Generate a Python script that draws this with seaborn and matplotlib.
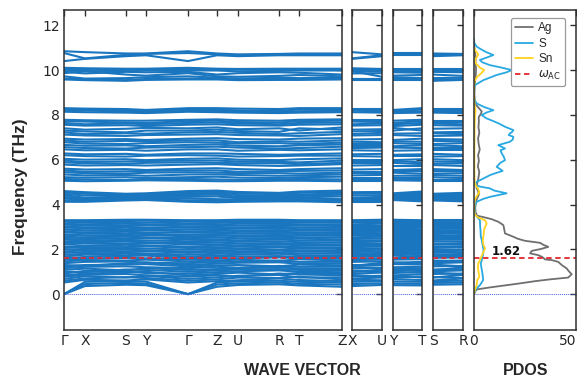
import matplotlib
matplotlib.use("Agg")
import matplotlib.pyplot as plt
import pandas as pd
import seaborn as sns

# ---------------------------------------------------------------- data
points = ["Γ", "X", "S", "Y", "Z", "U", "R", "T"]
main_path = ["Γ", "X", "S", "Y", "Γ", "Z", "U", "R", "T", "Z"]
segment_lengths = [21, 41, 20, 42, 29, 21, 41, 20, 43]
side_paths = [["X", "U"], ["Y", "T"], ["S", "R"]]

# phonon frequencies (THz) at Γ, X, S, Y, Z, U, R, T
bands_low = [
    [0.00, 0.36, 0.42, 0.40, 0.33, 0.41, 0.44, 0.39],
    [0.00, 0.45, 0.50, 0.47, 0.43, 0.48, 0.52, 0.46],
    [0.00, 0.55, 0.58, 0.56, 0.52, 0.57, 0.60, 0.55],
    [0.52, 0.64, 0.61, 0.66, 0.58, 0.62, 0.70, 0.63],
    [0.60, 0.70, 0.76, 0.72, 0.66, 0.74, 0.72, 0.78],
    [0.68, 0.80, 0.74, 0.82, 0.75, 0.82, 0.86, 0.74],
    [0.78, 0.86, 0.90, 0.84, 0.84, 0.78, 0.92, 0.88],
    [0.84, 0.92, 0.97, 1.00, 0.90, 0.96, 0.88, 0.95],
    [0.92, 1.04, 1.02, 0.94, 0.98, 1.02, 1.06, 1.00],
    [1.00, 0.98, 1.10, 1.08, 1.06, 1.10, 1.12, 1.08],
    [1.08, 1.14, 1.06, 1.16, 1.12, 1.16, 1.20, 1.14],
    [1.16, 1.22, 1.24, 1.20, 1.22, 1.18, 1.26, 1.22],
    [1.24, 1.30, 1.32, 1.34, 1.28, 1.30, 1.24, 1.32],
    [1.30, 1.26, 1.38, 1.42, 1.36, 1.40, 1.42, 1.36],
    [1.38, 1.44, 1.46, 1.40, 1.44, 1.46, 1.50, 1.44],
    [1.46, 1.52, 1.50, 1.54, 1.50, 1.54, 1.48, 1.56],
    [1.54, 1.58, 1.62, 1.60, 1.58, 1.60, 1.64, 1.60],
    [1.60, 1.66, 1.70, 1.72, 1.66, 1.68, 1.70, 1.66],
    [1.68, 1.76, 1.74, 1.78, 1.72, 1.76, 1.80, 1.74],
    [1.76, 1.80, 1.84, 1.82, 1.80, 1.84, 1.86, 1.82],
    [1.84, 1.88, 1.90, 1.92, 1.88, 1.90, 1.94, 1.90],
    [1.90, 1.96, 1.98, 1.96, 1.94, 1.98, 1.98, 1.96],
    [1.98, 2.02, 2.06, 2.04, 2.02, 2.04, 2.08, 2.04],
    [2.06, 2.10, 2.10, 2.14, 2.08, 2.12, 2.14, 2.10],
    [2.12, 2.16, 2.20, 2.18, 2.16, 2.18, 2.22, 2.18],
    [2.22, 2.26, 2.24, 2.28, 2.22, 2.26, 2.28, 2.24],
    [2.28, 2.32, 2.34, 2.32, 2.30, 2.34, 2.36, 2.32],
    [2.36, 2.38, 2.42, 2.40, 2.38, 2.40, 2.44, 2.40],
    [2.44, 2.46, 2.48, 2.50, 2.44, 2.48, 2.50, 2.48],
    [2.50, 2.54, 2.56, 2.54, 2.52, 2.56, 2.56, 2.54],
    [2.58, 2.62, 2.60, 2.64, 2.60, 2.62, 2.64, 2.62],
    [2.64, 2.70, 2.68, 2.70, 2.68, 2.70, 2.72, 2.68],
    [2.74, 2.76, 2.78, 2.76, 2.74, 2.78, 2.78, 2.76],
    [2.80, 2.84, 2.84, 2.86, 2.82, 2.84, 2.86, 2.84],
    [2.88, 2.92, 2.90, 2.92, 2.90, 2.92, 2.94, 2.90],
    [2.96, 2.98, 3.00, 2.98, 2.96, 2.98, 3.00, 2.98],
    [3.02, 3.06, 3.06, 3.08, 3.04, 3.06, 3.08, 3.06],
    [3.10, 3.12, 3.14, 3.12, 3.10, 3.14, 3.14, 3.12],
    [3.16, 3.20, 3.18, 3.20, 3.18, 3.20, 3.22, 3.20],
    [3.24, 3.26, 3.26, 3.28, 3.24, 3.26, 3.28, 3.26],
    [3.30, 3.30, 3.32, 3.32, 3.30, 3.32, 3.32, 3.30],
]

bands_4thz = [
    [4.60, 4.55, 4.48, 4.50, 4.62, 4.56, 4.52, 4.58],
    [4.55, 4.48, 4.44, 4.46, 4.56, 4.50, 4.46, 4.52],
    [4.48, 4.40, 4.40, 4.42, 4.50, 4.42, 4.40, 4.44],
    [4.42, 4.30, 4.36, 4.38, 4.44, 4.34, 4.34, 4.38],
    [4.34, 4.26, 4.32, 4.34, 4.36, 4.28, 4.30, 4.32],
    [4.26, 4.22, 4.28, 4.30, 4.24, 4.22, 4.26, 4.26],
    [4.18, 4.16, 4.22, 4.26, 4.16, 4.16, 4.20, 4.20],
    [4.12, 4.12, 4.18, 4.20, 4.10, 4.12, 4.14, 4.14],
]

bands_mid = [
    [7.78, 7.76, 7.74, 7.74, 7.80, 7.76, 7.74, 7.78],
    [7.72, 7.70, 7.66, 7.64, 7.74, 7.68, 7.66, 7.72],
    [7.64, 7.58, 7.62, 7.58, 7.66, 7.62, 7.58, 7.64],
    [7.56, 7.52, 7.54, 7.50, 7.58, 7.54, 7.52, 7.56],
    [7.40, 7.34, 7.38, 7.42, 7.44, 7.36, 7.40, 7.30],
    [7.30, 7.26, 7.22, 7.30, 7.34, 7.28, 7.24, 7.40],
    [7.22, 7.14, 7.18, 7.16, 7.24, 7.20, 7.14, 7.18],
    [7.12, 7.08, 7.06, 7.10, 7.14, 7.10, 7.08, 7.06],
    [6.94, 6.90, 6.92, 6.88, 6.96, 6.92, 6.90, 6.94],
    [6.86, 6.80, 6.84, 6.82, 6.86, 6.78, 6.82, 6.80],
    [6.78, 6.72, 6.70, 6.74, 6.76, 6.72, 6.74, 6.70],
    [6.66, 6.62, 6.64, 6.60, 6.68, 6.62, 6.60, 6.64],
    [6.56, 6.52, 6.50, 6.54, 6.58, 6.54, 6.50, 6.52],
    [6.46, 6.42, 6.44, 6.40, 6.46, 6.40, 6.44, 6.42],
    [6.28, 6.24, 6.26, 6.22, 6.28, 6.26, 6.22, 6.24],
    [6.20, 6.16, 6.14, 6.18, 6.18, 6.14, 6.16, 6.18],
    [6.04, 6.00, 6.02, 5.98, 6.06, 6.00, 5.98, 6.02],
    [5.96, 5.90, 5.92, 5.94, 5.96, 5.92, 5.90, 5.88],
    [5.88, 5.84, 5.82, 5.86, 5.86, 5.84, 5.84, 5.80],
    [5.78, 5.74, 5.76, 5.74, 5.80, 5.76, 5.72, 5.74],
    [5.60, 5.56, 5.58, 5.54, 5.62, 5.58, 5.54, 5.58],
    [5.52, 5.46, 5.48, 5.50, 5.52, 5.46, 5.48, 5.50],
    [5.44, 5.40, 5.38, 5.42, 5.42, 5.40, 5.40, 5.38],
    [5.34, 5.30, 5.32, 5.28, 5.34, 5.32, 5.28, 5.30],
    [5.22, 5.20, 5.22, 5.18, 5.24, 5.20, 5.18, 5.22],
    [5.14, 5.12, 5.10, 5.14, 5.12, 5.10, 5.12, 5.14],
    [5.06, 5.04, 5.06, 5.08, 5.04, 5.04, 5.06, 5.06],
]

bands_8thz = [
    [8.30, 8.28, 8.26, 8.22, 8.30, 8.28, 8.26, 8.30],
    [8.26, 8.22, 8.22, 8.16, 8.24, 8.20, 8.18, 8.24],
    [8.18, 8.20, 8.14, 8.12, 8.18, 8.14, 8.12, 8.16],
    [8.14, 8.12, 8.10, 8.08, 8.12, 8.10, 8.08, 8.10],
]

bands_high = [
    [10.84, 10.80, 10.74, 10.74, 10.74, 10.70, 10.72, 10.74],
    [10.76, 10.52, 10.68, 10.72, 10.70, 10.66, 10.70, 10.70],
    [10.40, 10.50, 10.62, 10.66, 10.66, 10.62, 10.66, 10.66],
    [10.10, 10.08, 10.06, 10.06, 10.06, 10.05, 10.06, 10.06],
    [10.04, 10.02, 10.02, 10.00, 10.02, 10.02, 10.00, 10.02],
    [9.98, 9.95, 9.96, 9.98, 9.98, 9.94, 9.96, 9.98],
    [9.92, 9.85, 9.92, 9.90, 9.80, 9.86, 9.90, 9.88],
    [9.86, 9.95, 9.80, 9.75, 9.72, 9.70, 9.74, 9.78],
    [9.72, 9.62, 9.64, 9.68, 9.66, 9.62, 9.66, 9.64],
    [9.62, 9.58, 9.55, 9.60, 9.62, 9.58, 9.60, 9.60],
    [9.58, 9.55, 9.52, 9.56, 9.58, 9.55, 9.56, 9.56],
]

omega_ac = 1.62

# projected phonon DOS: (frequency THz, states)
pdos_ag = [
    (0.00, 0.0), (0.05, 0.3), (0.12, 0.6), (0.21, 1.3), (0.30, 7.8),
    (0.40, 16.0), (0.48, 22.5), (0.58, 30.0), (0.66, 37.3), (0.74, 46.2),
    (0.89, 47.9), (1.02, 46.5), (1.15, 45.4), (1.30, 43.0), (1.44, 41.3),
    (1.52, 38.1), (1.55, 34.8), (1.62, 34.0), (1.67, 33.2), (1.74, 31.5),
    (1.82, 27.5), (1.93, 28.3), (2.02, 33.0), (2.11, 36.4), (2.20, 34.0),
    (2.29, 32.4), (2.38, 25.0), (2.47, 21.5), (2.56, 19.3), (2.71, 15.2),
    (2.90, 14.8), (3.08, 14.4), (3.23, 11.9), (3.35, 8.5), (3.42, 5.4),
    (3.50, 1.5), (3.65, 0.8), (3.85, 0.6), (4.05, 0.9), (4.25, 1.4),
    (4.45, 2.4), (4.60, 2.0), (4.75, 1.2), (4.95, 1.6), (5.20, 2.2),
    (5.45, 2.6), (5.70, 1.9), (5.95, 2.4), (6.20, 2.0), (6.45, 2.8),
    (6.70, 2.3), (6.95, 2.0), (7.20, 2.6), (7.45, 2.2), (7.70, 2.4),
    (7.90, 2.3), (8.05, 3.4), (8.15, 3.8), (8.28, 2.6), (8.44, 1.0),
    (8.60, 0.4), (8.90, 0.2), (9.30, 0.3), (9.55, 0.6), (9.80, 0.9),
    (10.05, 1.0), (10.30, 0.7), (10.55, 0.8), (10.80, 0.5), (11.00, 0.2),
    (11.20, 0.0),
]
pdos_s = [
    (0.00, 0.0), (0.10, 0.3), (0.20, 0.8), (0.40, 2.9), (0.63, 4.5),
    (0.80, 4.3), (1.00, 4.0), (1.20, 3.6), (1.37, 3.3), (1.52, 3.8),
    (1.75, 4.4), (1.97, 4.7), (2.20, 4.2), (2.41, 3.8), (2.60, 3.3),
    (2.85, 3.2), (3.05, 3.0), (3.30, 2.9), (3.42, 1.8), (3.55, 0.6),
    (3.80, 0.3), (3.98, 0.5), (4.12, 1.3), (4.25, 4.5), (4.34, 7.8),
    (4.50, 16.0), (4.62, 10.0), (4.72, 7.8), (4.80, 3.0), (4.87, 0.5),
    (5.01, 1.3), (5.16, 4.6), (5.31, 7.8), (5.39, 10.3), (5.50, 14.0),
    (5.60, 12.5), (5.68, 11.1), (5.85, 12.8), (5.98, 15.2), (6.15, 14.5),
    (6.28, 13.6), (6.42, 13.0), (6.50, 15.2), (6.65, 11.9), (6.80, 17.6),
    (6.90, 19.0), (7.02, 19.3), (7.10, 17.0), (7.17, 17.6), (7.25, 18.8),
    (7.32, 19.3), (7.47, 15.2), (7.60, 12.5), (7.69, 10.3), (7.85, 6.0),
    (7.99, 3.8), (8.10, 6.0), (8.21, 9.5), (8.35, 5.0), (8.51, 1.3),
    (8.70, 0.2), (9.00, 0.0), (9.20, 0.2), (9.33, 0.5), (9.55, 4.6),
    (9.78, 11.1), (9.90, 16.0), (10.00, 18.5), (10.10, 14.0), (10.22, 7.8),
    (10.35, 4.0), (10.45, 2.9), (10.55, 6.0), (10.67, 9.5), (10.80, 6.0),
    (10.95, 3.0), (11.05, 1.3), (11.20, 0.2), (11.40, 0.0),
]
pdos_sn = [
    (0.00, 0.0), (0.15, 0.3), (0.40, 1.3), (0.63, 1.6), (0.77, 2.6),
    (1.00, 2.2), (1.20, 1.9), (1.37, 2.1), (1.52, 2.9), (1.75, 4.0),
    (2.05, 5.4), (2.19, 4.6), (2.40, 4.3), (2.65, 4.7), (2.90, 5.0),
    (3.15, 6.2), (3.30, 5.4), (3.42, 2.0), (3.55, 0.4), (3.80, 0.1),
    (4.20, 0.3), (4.40, 1.5), (4.55, 2.6), (4.70, 2.0), (4.85, 0.8),
    (5.00, 0.3), (5.50, 0.2), (6.50, 0.2), (7.50, 0.3), (8.00, 0.5),
    (8.20, 0.8), (8.40, 0.3), (9.00, 0.0), (9.50, 0.2), (9.70, 1.5),
    (9.85, 3.5), (10.00, 5.0), (10.10, 3.0), (10.30, 0.8), (10.45, 0.5),
    (10.60, 1.5), (10.70, 2.1), (10.85, 0.8), (11.00, 0.0),
]

# ---------------------------------------------------------------- style
sns.set_theme(style="white")
plt.rcParams["font.family"] = ["DejaVu Sans"]
plt.rcParams["mathtext.fontset"] = "dejavusans"

BAND = "#1b76c0"
RED = "#e4262c"
ZERO = "#4a62d8"
SPINE = "#2f2f2f"
C_AG, C_S, C_SN = "#6f6f6f", "#29a9e1", "#ffd320"
YLIM = (-1.6, 12.68)

W, H = 577, 379
fig = plt.figure(figsize=(W / 100, H / 100), dpi=100)


def add_panel(x0, x1):
    return fig.add_axes([x0 / W, 49 / H, (x1 - x0) / W, 320 / H])


def style_panel(ax, labelleft=False):
    for sp in ax.spines.values():
        sp.set_color(SPINE)
        sp.set_linewidth(1.1)
    ax.set_ylim(*YLIM)
    ax.set_yticks([0, 2, 4, 6, 8, 10, 12])
    ax.tick_params(axis="both", direction="in", length=4, width=1,
                   color=SPINE, top=True, right=True, labelsize=10,
                   labelleft=labelleft, pad=3)
    ax.set_xlabel("")
    ax.set_ylabel("")


def band_frame(path, xs):
    col = {p: i for i, p in enumerate(points)}
    rows = []
    n = 0
    for group in (bands_low, bands_4thz, bands_mid, bands_8thz, bands_high):
        for band in group:
            for p, x in zip(path, xs):
                rows.append((n, x, band[col[p]]))
            n += 1
    return pd.DataFrame(rows, columns=["band", "k", "freq"])


def draw_bands(ax, path, xs):
    df = band_frame(path, xs)
    sns.lineplot(data=df, x="k", y="freq", units="band", estimator=None,
                 sort=False, color=BAND, linewidth=1.5, ax=ax, legend=False)
    ax.axhline(0, color=ZERO, lw=0.7, ls=(0, (1, 1)), zorder=3)
    ax.axhline(omega_ac, color=RED, lw=1.2, ls=(0, (3, 2)), zorder=4)
    ax.set_xlim(xs[0], xs[-1])
    ax.set_xticks(xs)
    ax.set_xticklabels(path)


# main path panel
kx = [0]
for seg in segment_lengths:
    kx.append(kx[-1] + seg)
ax_main = add_panel(64, 342)
draw_bands(ax_main, main_path, kx)
style_panel(ax_main, labelleft=True)

# side paths
for (x0, x1), path in zip([(352, 382), (393, 422), (433, 463)], side_paths):
    ax = add_panel(x0, x1)
    draw_bands(ax, path, [0, 1])
    style_panel(ax)

# projected DOS panel
ax_d = add_panel(474, 576)
for data, color, name in [(pdos_ag, C_AG, "Ag"), (pdos_s, C_S, "S"),
                          (pdos_sn, C_SN, "Sn")]:
    f = [p[0] for p in data]
    v = [p[1] for p in data]
    sns.lineplot(x=v, y=f, sort=False, estimator=None, color=color,
                 linewidth=1.3, ax=ax_d, label=name)
ax_d.axhline(0, color=ZERO, lw=0.7, ls=(0, (1, 1)))
ax_d.axhline(omega_ac, color=RED, lw=1.3, ls=(0, (3, 2)),
             label=r"$\omega_{\rm AC}$")
ax_d.text(16, omega_ac + 0.28, f"{omega_ac:.2f}", ha="center", va="center",
          fontsize=8.5, fontweight="bold", color="#111111")
ax_d.set_xlim(0, 50)
ax_d.set_xticks([0, 50])
style_panel(ax_d)
ax_d.get_xticklabels()[-1].set_horizontalalignment("right")

leg = ax_d.legend(loc="upper right", bbox_to_anchor=(0.892, 0.975),
                  borderaxespad=0, frameon=True, fancybox=True,
                  handlelength=1.55, handletextpad=0.4, labelspacing=0.3,
                  borderpad=0.35,
                  prop={"family": "Liberation Sans", "size": 8.5})
leg.get_frame().set_edgecolor("#9a9a9a")
leg.get_frame().set_linewidth(0.9)
leg.get_frame().set_alpha(1)

# axis titles
fig.text(20.7 / W, 1 - 186.5 / H, "Frequency (THz)", rotation=90,
         ha="center", va="center", fontsize=12.5, fontweight="bold",
         family="Liberation Sans")
fig.text(302 / W, 1 - 370.7 / H, "WAVE VECTOR", ha="center", va="center",
         fontsize=11.5, fontweight="bold", family="Liberation Sans")
fig.text(525.5 / W, 1 - 370.7 / H, "PDOS", ha="center", va="center",
         fontsize=11.5, fontweight="bold", family="Liberation Sans")

fig.savefig("out.png", dpi=100)
